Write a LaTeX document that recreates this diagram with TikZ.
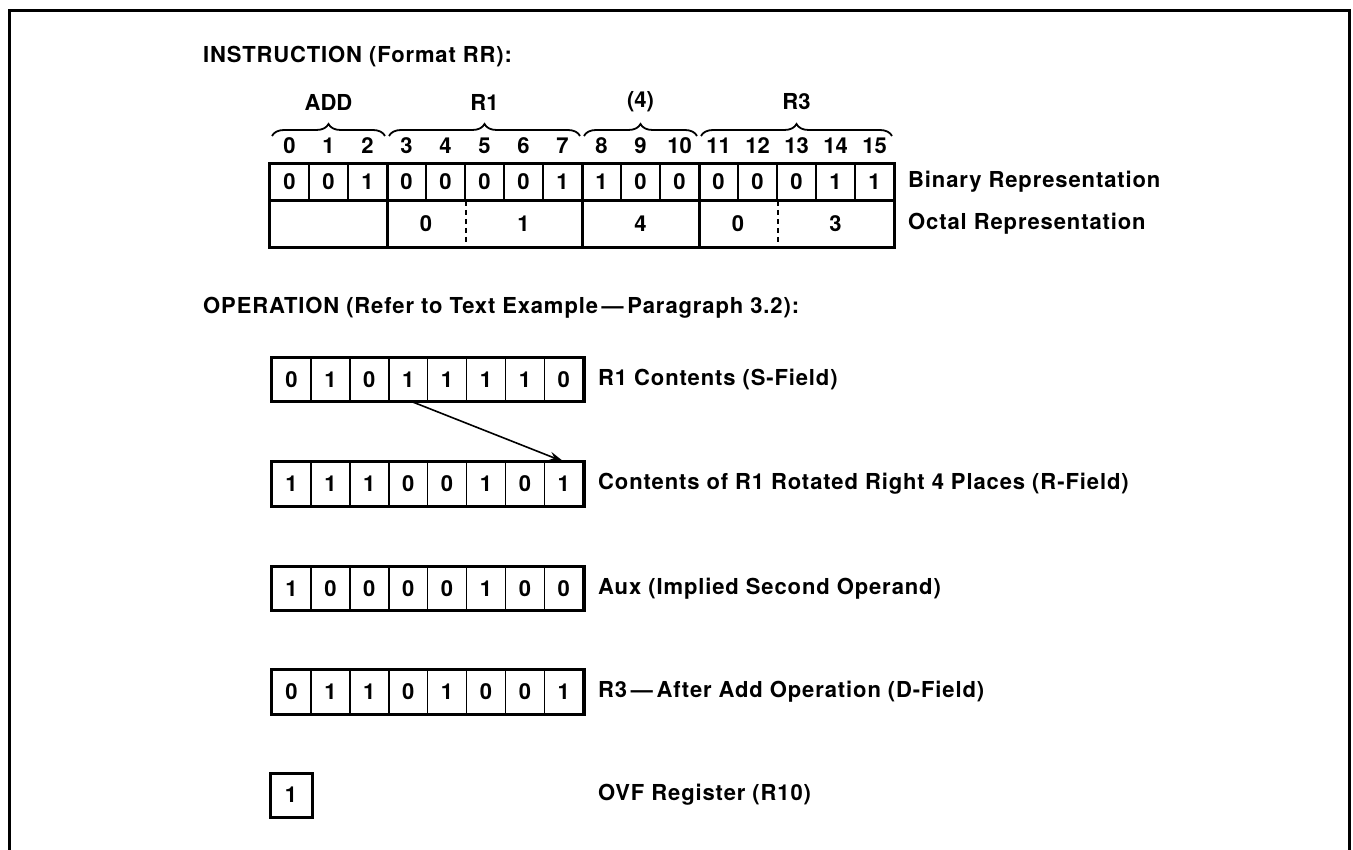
\documentclass[tikz,border=0pt]{standalone}
\usepackage{fontspec}
\setmainfont{TeX Gyre Heros}
\usetikzlibrary{decorations.pathreplacing,arrows.meta}
\tikzset{
  txt/.style={font=\fontsize{22}{24}\selectfont\bfseries, inner sep=0pt},
  lbl/.style={font=\fontsize{22}{24}\selectfont\bfseries\addfontfeatures{LetterSpace=4}, inner sep=0pt, anchor=west},
  icell/.style={draw, line width=1.6pt, minimum width=39pt, minimum height=36pt, inner sep=0pt, txt},
  rcell/.style={draw, line width=1.6pt, minimum width=38.9pt, minimum height=43pt, inner sep=0pt, txt},
  heavy/.style={line width=3pt},
  thin/.style={line width=1.6pt},
  dsh/.style={line width=1.5pt, dash pattern=on 5pt off 4pt},
  brc/.style={decorate, decoration={brace, amplitude=12pt}, line width=1.8pt},
}
\begin{document}
\begin{tikzpicture}[x=1pt,y=-1pt]
\useasboundingbox (0,0) rectangle (1353,850);
\draw[heavy, line join=miter] (9,852) -- (9,11) -- (1349.5,11) -- (1349.5,852);

\node[lbl] (t1) at (203,57) {INSTRUCTION (Format RR):};

% braces and field names
\foreach \lab/\a/\b [count=\k] in {ADD/272/385, R1/389/580, {(4)}/584/697, R3/701/892} {
  \coordinate (bl\k) at (\a,136);
  \coordinate (br\k) at (\b,136);
  \draw[brc] (bl\k) -- (br\k);
  \node[txt] (g\k) at ({(\a+\b)/2},102) {\lab};
}

% bit numbers
\foreach \i in {0,...,15} \node[txt] (n\i) at ({289.5+39*\i},146) {\i};

% binary row
\foreach \b [count=\i from 0] in {0,0,1,0,0,0,0,1,1,0,0,0,0,0,1,1}
  \node[icell] (b\i) at ({289.5+39*\i},182) {\b};

% octal row
\node[txt] (o1) at (426,223.5) {0};
\node[txt] (o2) at (523.5,223.5) {1};
\node[txt] (o3) at (640.5,223.5) {4};
\node[txt] (o4) at (738,223.5) {0};
\node[txt] (o5) at (835.5,223.5) {3};
\draw[thin] (b0.south west) -- (b15.south east);
\draw[dsh] (b4.south east) -- ++(0,47);
\draw[dsh] (b12.south east) -- ++(0,47);
\draw[heavy] (b0.north west) rectangle ([yshift=-47pt]b15.south east);
\foreach \j in {2,7,10} \draw[heavy] (b\j.north east) -- ([yshift=-47pt]b\j.south east);

\node[lbl] (bin) at (908,182) {Binary Representation};
\node[lbl] (oct) at (908,223.5) {Octal Representation};

\node[lbl] (t2) at (203,308) {OPERATION (Refer to Text Example\,---\,Paragraph 3.2):};

% registers
\foreach \r/\y/\bits in {1/379.5/{0,1,0,1,1,1,1,0}, 2/484/{1,1,1,0,0,1,0,1}, 3/588.5/{1,0,0,0,0,1,0,0}, 4/692/{0,1,1,0,1,0,0,1}} {
  \foreach \b [count=\i from 0] in \bits
    \node[rcell] (r\r c\i) at ({291.5+38.9*\i},\y) {\b};
  \draw[heavy] (r\r c0.north west) rectangle (r\r c7.south east);
}
\node[rcell, line width=3pt, minimum width=42pt, minimum height=44pt] (ovf) at (291,795) {1};

\node[lbl] (l1) at (598,379.5) {R1 Contents (S-Field)};
\node[lbl] (l2) at (598,484) {Contents of R1 Rotated Right 4 Places (R-Field)};
\node[lbl] (l3) at (598,588.5) {Aux (Implied Second Operand)};
\node[lbl] (l4) at (598,692) {R3\,---\,After Add Operation (D-Field)};
\node[lbl] (l5) at (598,795) {OVF Register (R10)};

\draw[-{Stealth[length=15pt,width=9pt]}, line width=1.6pt] ([xshift=4pt]r1c3.south) -- (r2c7.north);
\end{tikzpicture}
\end{document}
